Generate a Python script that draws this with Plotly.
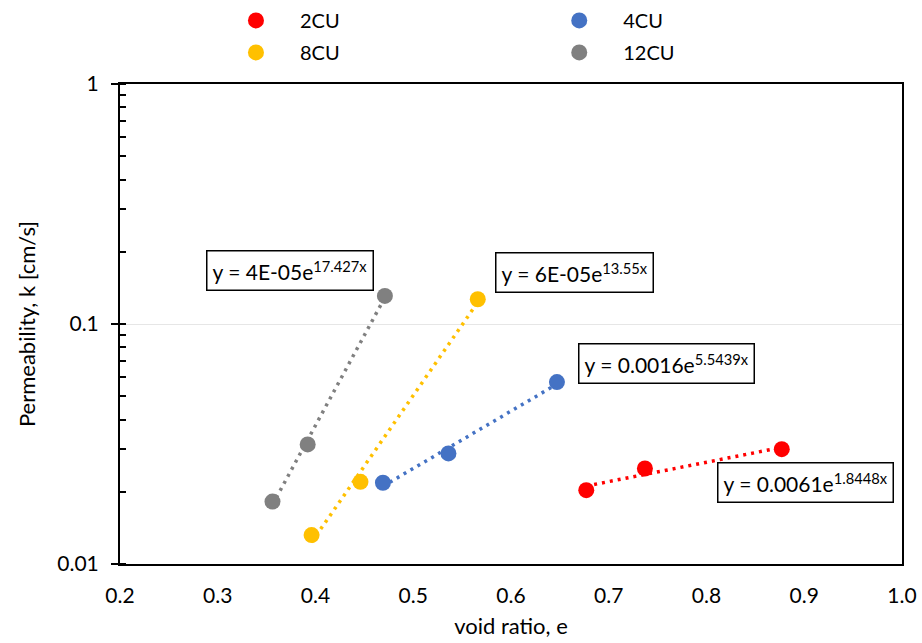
import numpy as np
import plotly.graph_objects as go

# ---------------- data ----------------
series_names = ["2CU", "4CU", "8CU", "12CU"]
e_2cu = [0.677, 0.737, 0.877]
k_2cu = [0.0203, 0.0250, 0.0301]
e_4cu = [0.469, 0.536, 0.647]
k_4cu = [0.0218, 0.0289, 0.0573]
e_8cu = [0.396, 0.446, 0.566]
k_8cu = [0.0132, 0.0220, 0.1268]
e_12cu = [0.356, 0.392, 0.471]
k_12cu = [0.0182, 0.0315, 0.1309]
equations = [
    "y = 0.0061e<sup>1.8448x</sup>",
    "y = 0.0016e<sup>5.5439x</sup>",
    "y = 6E-05e<sup>13.55x</sup>",
    "y = 4E-05e<sup>17.427x</sup>",
]
x_tickvals = [0.2, 0.3, 0.4, 0.5, 0.6, 0.7, 0.8, 0.9, 1.0]
y_tickvals = [0.01, 0.1, 1]
y_ticktext = ["0.01", "0.1", "1"]

colors = ["#FF0000", "#4472C4", "#FFC000", "#808080"]
legend_ids = ["legend", "legend2", "legend", "legend2"]
# equation box positions (x in data, y in log10)
eq_pos = [(0.901, -1.662), (0.759, -1.164), (0.6645, -0.787), (0.3744, -0.775)]

FONT = "Lato"
all_e = [e_2cu, e_4cu, e_8cu, e_12cu]
all_k = [k_2cu, k_4cu, k_8cu, k_12cu]

fig = go.Figure()

for name, e, k, c, lg in zip(series_names, all_e, all_k, colors, legend_ids):
    slope, icpt = np.polyfit(np.array(e), np.log(np.array(k)), 1)
    xs = np.array([min(e), max(e)])
    fig.add_trace(go.Scatter(
        x=xs, y=np.exp(icpt + slope * xs), mode="lines",
        line=dict(color=c, width=3.5, dash="3px,5px"),
        showlegend=False, hoverinfo="skip"))

for name, e, k, c, lg in zip(series_names, all_e, all_k, colors, legend_ids):
    fig.add_trace(go.Scatter(
        x=e, y=k, mode="markers", name=name,
        marker=dict(color=c, size=16, line=dict(width=0)),
        legend=lg, legendgroup=name))

for txt, (ax, ay) in zip(equations, eq_pos):
    fig.add_annotation(x=ax, y=ay, xref="x", yref="y", text=txt, showarrow=False,
                       font=dict(family=FONT, size=21, color="black"),
                       bordercolor="black", borderwidth=1.5, borderpad=5,
                       bgcolor="white")

legend_common = dict(orientation="v", yanchor="top", xanchor="left",
                     font=dict(family=FONT, size=20, color="black"),
                     bgcolor="rgba(0,0,0,0)", itemwidth=78, tracegroupgap=3,
                     traceorder="grouped")

fig.update_layout(
    width=922, height=643,
    margin=dict(l=120, r=20, t=84, b=79, autoexpand=False),
    paper_bgcolor="white", plot_bgcolor="white",
    font=dict(family=FONT, size=20, color="black"),
    legend=dict(x=0.1176, y=1.173, **legend_common),
    legend2=dict(x=0.531, y=1.173, **legend_common),
    xaxis=dict(range=[0.2, 1.0], tickvals=x_tickvals, tickformat=".1f",
               showgrid=False, zeroline=False,
               showline=True, linecolor="black", linewidth=2, mirror=True,
               ticks="", tickfont=dict(family=FONT, size=21), ticklabelstandoff=12,
               title=dict(text="void ratio, e", font=dict(family=FONT, size=22), standoff=12)),
    xaxis2=dict(range=[0.2, 1.0], overlaying="x", side="top", anchor="y",
                tickvals=x_tickvals, showticklabels=False, showgrid=False,
                zeroline=False, ticks="outside", ticklen=7, tickwidth=2,
                tickcolor="black",
                minor=dict(ticks="outside", dtick=0.02, tick0=0.2, ticklen=5,
                           tickwidth=2, tickcolor="black", showgrid=False)),
    xaxis3=dict(range=[0.2, 1.0], overlaying="x", side="top", anchor="y",
                tickvals=x_tickvals, showticklabels=False, showgrid=False,
                zeroline=False, ticks="inside", ticklen=8, tickwidth=2,
                tickcolor="black"),
    yaxis=dict(type="log", range=[-2, 0], tickvals=y_tickvals, ticktext=y_ticktext,
               showgrid=True, gridcolor="#e6e6e6", gridwidth=1, zeroline=False,
               showline=True, linecolor="black", linewidth=2, mirror=True,
               ticks="outside", ticklen=7, tickwidth=2, tickcolor="black",
               tickfont=dict(family=FONT, size=21), ticklabelstandoff=8,
               minor=dict(ticks="inside", dtick="D1", ticklen=6, tickwidth=2,
                          tickcolor="black", showgrid=False),
               title=dict(text="Permeability, k [cm/s]", font=dict(family=FONT, size=22), standoff=16)),
)

fig.write_html("out.html", config={"displayModeBar": False},
               post_script="document.body.style.margin='0';")
